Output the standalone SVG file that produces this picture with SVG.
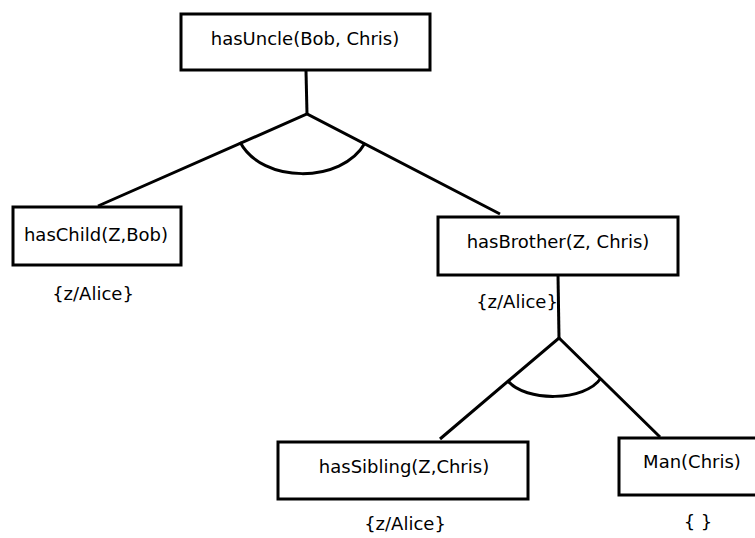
<svg xmlns="http://www.w3.org/2000/svg" width="755" height="538" viewBox="0 0 755 538">
<style>
.box{fill:#fff;stroke:#000;stroke-width:3}
.lbl{font-family:"DejaVu Sans",sans-serif;font-size:18px;fill:#000;text-anchor:middle}
.edge{fill:none;stroke:#000;stroke-width:3;stroke-linecap:butt}
</style>
<rect width="755" height="538" fill="#fff"/>
<g id="connectors">
<path class="edge" d="M306,71 L307,114"/>
<path class="edge" d="M98,206 L307,114 L500,214"/>
<path class="edge" d="M240,142 C262,184 342,184 365,143"/>
<path class="edge" d="M558,275 L559,338"/>
<path class="edge" d="M440,439 L559,338 L660,437"/>
<path class="edge" d="M508,381 C525,402 585,402 601,378"/>
</g>
<g id="hasUncle">
<rect class="box" x="181" y="14" width="249" height="56"/>
<text class="lbl" x="305" y="45">hasUncle(Bob, Chris)</text>
</g>
<g id="hasChild">
<rect class="box" x="13" y="207" width="168" height="58"/>
<text class="lbl" x="96" y="241">hasChild(Z,Bob)</text>
<text class="lbl" x="93" y="300">{z/Alice}</text>
</g>
<g id="hasBrother">
<rect class="box" x="438" y="217" width="240" height="58"/>
<text class="lbl" x="558" y="248">hasBrother(Z, Chris)</text>
<text class="lbl" x="517" y="308">{z/Alice}</text>
</g>
<g id="hasSibling">
<rect class="box" x="278" y="442" width="250" height="57"/>
<text class="lbl" x="404" y="473">hasSibling(Z,Chris)</text>
<text class="lbl" x="405" y="530">{z/Alice}</text>
</g>
<g id="man">
<rect class="box" x="619" y="438" width="150" height="57"/>
<text class="lbl" x="692" y="468">Man(Chris)</text>
<text class="lbl" x="698" y="528">{ }</text>
</g>
</svg>
